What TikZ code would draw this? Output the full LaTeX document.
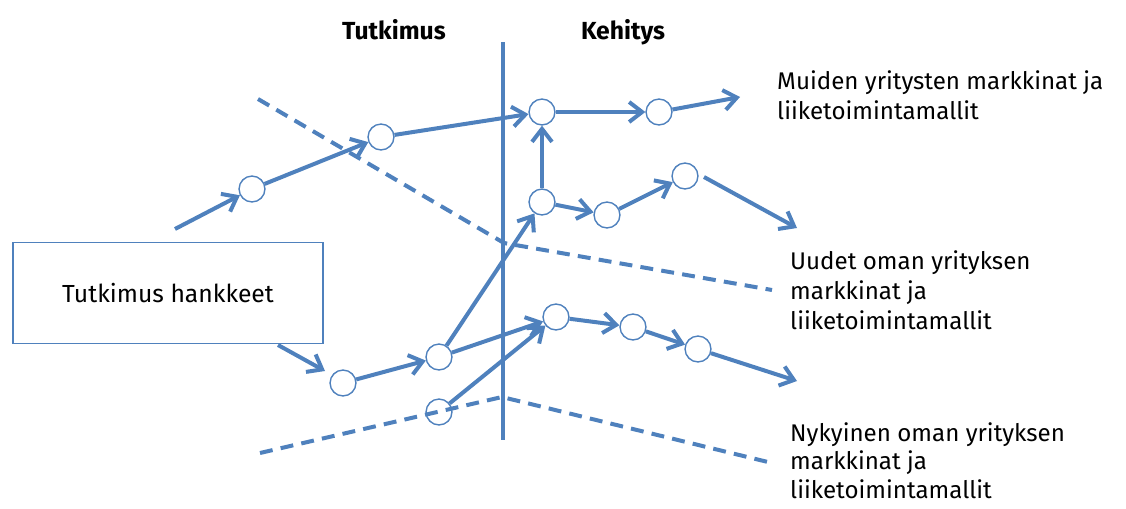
\documentclass[tikz,border=0pt]{standalone}
\usepackage{fontspec}
\setmainfont{Fira Sans}
\usetikzlibrary{arrows.meta}
\definecolor{flow}{RGB}{79,129,189}
\begin{document}
\begin{tikzpicture}[x=0.85pt,y=-0.85pt,
  flowline/.style={draw=flow,line width=3.4pt},
  arr/.style={flowline,-{Straight Barb[length=11pt,width=17pt]}},
  dline/.style={draw=flow,line width=3.4pt,dash pattern=on 11pt off 7pt},
  stage/.style={circle,draw=flow,line width=1.2pt,minimum size=22pt,inner sep=0pt},
  lbl/.style={anchor=north west,align=left,inner sep=0pt,font=\fontsize{20.5}{25.5}\selectfont},
  head/.style={anchor=base,font=\fontsize{21}{24}\selectfont\bfseries,inner sep=0pt}]
\useasboundingbox (0,0) rectangle (1126,508);

% phase divider and market boundaries
\coordinate (vtop) at (503,42);
\coordinate (vbot) at (503,440);
\draw[flowline,line width=3pt] (vtop) -- (vbot);
\coordinate (u0) at (258,99);
\coordinate (u1) at (504,243);
\coordinate (u2) at (772,290);
\draw[dline] (u0) -- (u1) -- (u2);
\coordinate (l0) at (260,453);
\coordinate (l1) at (502,397);
\coordinate (l2) at (772,463);
\draw[dline] (l0) -- (l1) -- (l2);

% headings
\node[head] (tut) at (394,39) {Tutkimus};
\node[head] (keh) at (623,39) {Kehitys};

% project box
\node[draw=flow,line width=1.5pt,minimum width=263pt,minimum height=86pt,
      font=\fontsize{21}{24}\selectfont] (box) at (168,293) {Tutkimus hankkeet};

% project stages
\node[stage] (a) at (252,189) {};
\node[stage] (b) at (381,137) {};
\node[stage] (c) at (542,112) {};
\node[stage] (d) at (659,112) {};
\node[stage] (e) at (542,202) {};
\node[stage] (f) at (607,215) {};
\node[stage] (g) at (685,176) {};
\node[stage] (h) at (343,383) {};
\node[stage] (i) at (439,357) {};
\node[stage] (j) at (439,412) {};
\node[stage] (k) at (556,317) {};
\node[stage] (l) at (633,327) {};
\node[stage] (m) at (698,349) {};

% loose ends
\coordinate (s1) at (175,229);
\coordinate (t1) at (740,97);
\coordinate (s2) at (704,177);
\coordinate (t2) at (797,228);
\coordinate (s3) at (278,345);
\coordinate (t3) at (325,371);
\coordinate (t4) at (797,381);

% flows
\draw[arr] (s1) -- (a);
\draw[arr] (a) -- (b);
\draw[arr] (b) -- (c);
\draw[arr] (c) -- (d);
\draw[arr] (d) -- (t1);
\draw[arr] (e) -- (c);
\draw[arr] (e) -- (f);
\draw[arr] (f) -- (g);
\draw[arr] (s2) -- (t2);
\draw[arr] (s3) -- (t3);
\draw[arr] (h) -- (i);
\draw[arr] (i) -- (e);
\draw[arr] (i) -- (k);
\draw[arr] (j) -- (k);
\draw[arr] (k) -- (l);
\draw[arr] (l) -- (m);
\draw[arr] (m) -- (t4);

% market labels
\node[lbl] (muut) at (777,70) {Muiden yritysten markkinat ja\\liiketoimintamallit};
\node[lbl] (uudet) at (790,250) {Uudet oman yrityksen\\markkinat ja\\liiketoimintamallit};
\node[lbl,font=\fontsize{20.5}{24.5}\selectfont] (nyk) at (790,422) {Nykyinen oman yrityksen\\markkinat ja\\liiketoimintamallit};
\end{tikzpicture}
\end{document}
